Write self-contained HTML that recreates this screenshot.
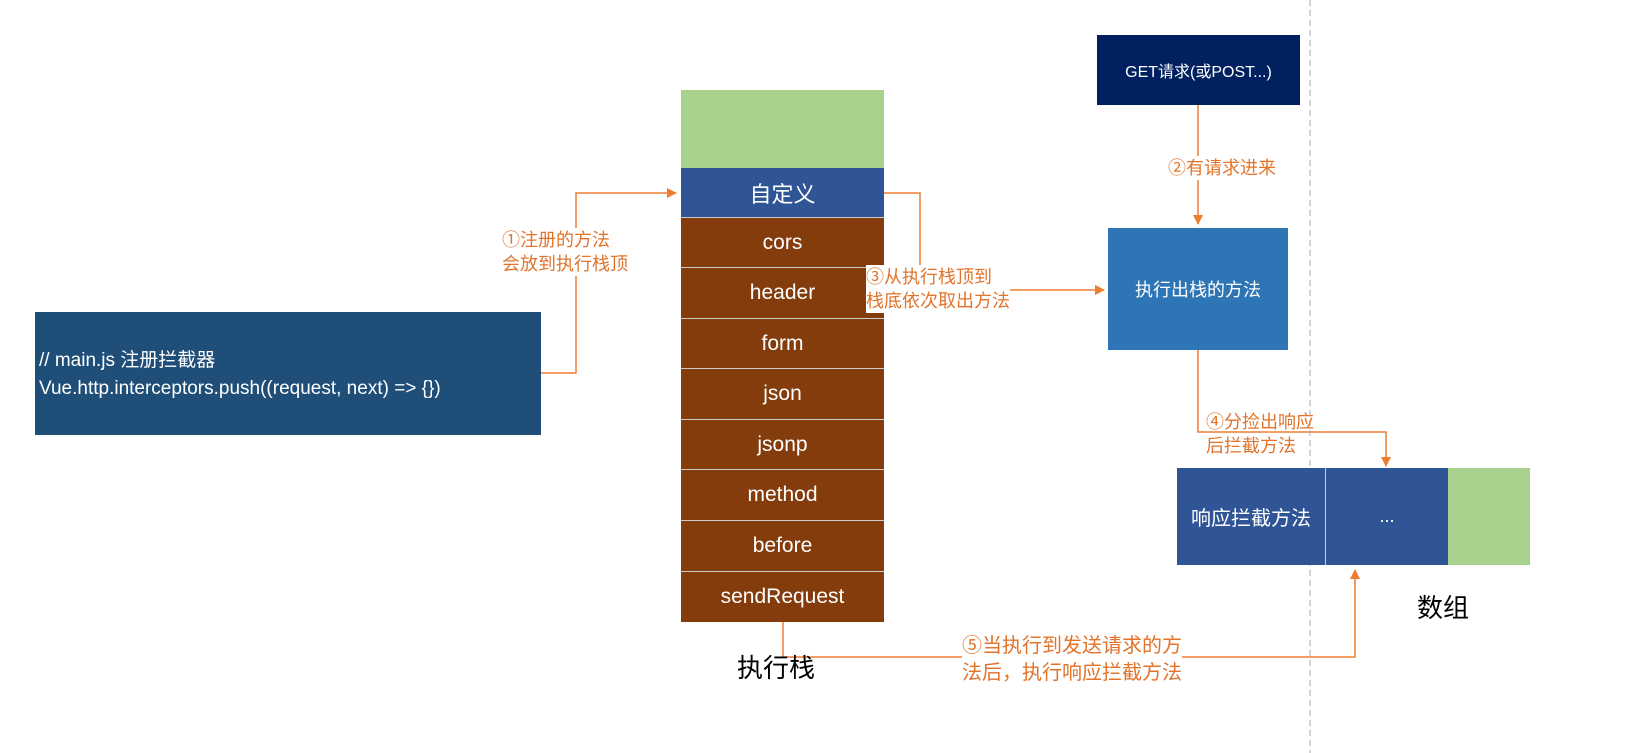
<!DOCTYPE html>
<html><head><meta charset="utf-8"><style>
body{margin:0;width:1626px;height:753px;background:#fff;position:relative;overflow:hidden;font-family:"Liberation Sans","Noto Sans CJK SC",sans-serif}
.b{position:absolute;box-sizing:border-box;color:#fff;display:flex;align-items:center;justify-content:center}
.s{left:681px;width:203px;height:51px;background:#843c0c;border-top:1px solid #ccc;font-size:21px}
.t{position:absolute;color:#e2732a;font-size:18px;line-height:24px;background:#fff}
</style></head><body>
<svg width="1626" height="753" style="position:absolute;left:0;top:0">
<defs><marker id="a" markerWidth="10" markerHeight="10" refX="9" refY="5" orient="auto" markerUnits="userSpaceOnUse"><path d="M0,0L10,5L0,10z" fill="#ed7d31"/></marker></defs>
<g stroke="#ed7d31" stroke-width="1.5" fill="none">
<path d="M541,373H576V193H676" marker-end="url(#a)"/>
<path d="M884,193H920V290H1104" marker-end="url(#a)"/>
<path d="M1198,105V224" marker-end="url(#a)"/>
<path d="M1198,350V432H1386V466" marker-end="url(#a)"/>
<path d="M783,621V657H1355V570" marker-end="url(#a)"/>
</g>
<line x1="1310" y1="0" x2="1310" y2="753" stroke="#aaa" stroke-dasharray="6,4"/>
</svg>
<div class="b" style="left:35px;top:312px;width:506px;height:123px;background:#1f4e79;display:block;padding:35px 0 0 4px;font-size:19px;line-height:28px">// main.js 注册拦截器<br>Vue.http.interceptors.push((request, next) =&gt; {})</div>
<div class="b" style="left:681px;top:90px;width:203px;height:78px;background:#a9d18e"></div>
<div class="b" style="left:681px;top:168px;width:203px;height:49px;background:#2f5597;font-size:22px">自定义</div>
<div class="b s" style="top:217px">cors</div>
<div class="b s" style="top:267px">header</div>
<div class="b s" style="top:318px">form</div>
<div class="b s" style="top:368px">json</div>
<div class="b s" style="top:419px">jsonp</div>
<div class="b s" style="top:469px">method</div>
<div class="b s" style="top:520px">before</div>
<div class="b s" style="top:571px">sendRequest</div>
<div style="position:absolute;left:737px;top:648px;font-size:26px">执行栈</div>
<div class="b" style="left:1097px;top:35px;width:203px;height:70px;background:#002060;font-size:16px">GET请求(或POST...)</div>
<div class="b" style="left:1108px;top:228px;width:180px;height:122px;background:#2e75b6;font-size:18px">执行出栈的方法</div>
<div class="b" style="left:1177px;top:468px;width:148px;height:97px;background:#2f5597;font-size:20px">响应拦截方法</div>
<div class="b" style="left:1325px;top:468px;width:123px;height:97px;background:#2f5597;border-left:1px solid #ccc;font-size:18px">...</div>
<div class="b" style="left:1448px;top:468px;width:82px;height:97px;background:#a9d18e"></div>
<div style="position:absolute;left:1417px;top:588px;font-size:26px">数组</div>
<div class="t" style="left:502px;top:228px">①注册的方法<br>会放到执行栈顶</div>
<div class="t" style="left:866px;top:265px">③从执行栈顶到<br>栈底依次取出方法</div>
<div class="t" style="left:1168px;top:156px">②有请求进来</div>
<div class="t" style="left:1206px;top:410px;background:transparent">④分捡出响应<br>后拦截方法</div>
<div class="t" style="left:962px;top:633px;font-size:20px;line-height:27px">⑤当执行到发送请求的方<br>法后，执行响应拦截方法</div>
</body></html>
